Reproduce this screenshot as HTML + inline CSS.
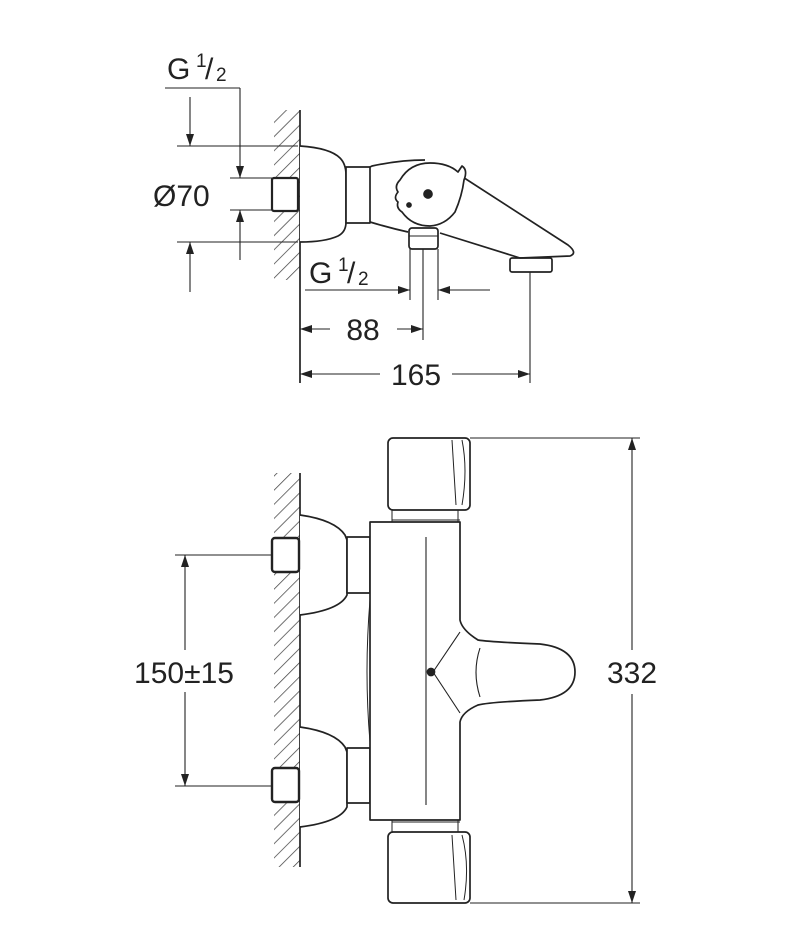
<!DOCTYPE html>
<html><head><meta charset="utf-8"><style>
html,body{margin:0;padding:0;background:#fff;width:790px;height:950px;overflow:hidden}
svg{display:block}
text{font-family:"Liberation Sans",Arial,sans-serif;fill:#222}
</style></head><body>
<svg width="790" height="950" viewBox="0 0 790 950" xmlns="http://www.w3.org/2000/svg">
<defs>
<pattern id="h" width="10" height="10" patternUnits="userSpaceOnUse" patternTransform="rotate(45)">
<line x1="0" y1="0" x2="0" y2="10" stroke="#444" stroke-width="1.5"/>
</pattern>
<marker id="a" viewBox="0 0 12 8" refX="12" refY="4" markerWidth="13" markerHeight="8" orient="auto" markerUnits="userSpaceOnUse">
<path d="M0,0 L12,4 L0,8 z" fill="#222"/>
</marker>
</defs>
<g fill="none" stroke="#222" stroke-width="1.7" stroke-linejoin="round">

<!-- TOP VIEW -->
<rect x="274" y="110" width="26" height="170" fill="url(#h)" stroke="none"/>
<line x1="300" y1="110" x2="300" y2="383"/>
<line x1="165" y1="88" x2="240" y2="88" stroke-width="1.1"/>
<line x1="240" y1="88" x2="240" y2="178" stroke-width="1.1" marker-end="url(#a)"/>
<line x1="240" y1="260" x2="240" y2="210" stroke-width="1.1" marker-end="url(#a)"/>
<line x1="190" y1="97" x2="190" y2="146" stroke-width="1.1" marker-end="url(#a)"/>
<line x1="190" y1="292" x2="190" y2="242" stroke-width="1.1" marker-end="url(#a)"/>
<line x1="177" y1="146" x2="298" y2="146" stroke-width="1.1"/>
<line x1="177" y1="242" x2="298" y2="242" stroke-width="1.1"/>
<line x1="230" y1="178" x2="272" y2="178" stroke-width="1.1"/>
<line x1="230" y1="210" x2="272" y2="210" stroke-width="1.1"/>
<rect x="272" y="178" width="26" height="33" rx="2" stroke-width="2.2" fill="#fff"/>
<path d="M300,146 Q330,148 340,158 Q346,164 346,175 L346,222 Q346,232 338,236 Q325,242 300,242" fill="#fff"/>
<rect x="346" y="167" width="24" height="56" fill="#fff"/>
<path d="M370,167 L372,166 Q400,160 425,160"/>
<path d="M370,222 Q390,228 408,232"/>
<path d="M455,172 L568,245 Q578,253 570,256 L520,258 L440,233" fill="#fff"/>
<rect x="510" y="258" width="42" height="14" rx="2"/>
<path d="M400,180 Q410,163 430,163 Q448,163 458,172 L462,166 Q468,170 464,180 Q462,196 455,212 Q445,225 430,226 Q412,226 402,212 Q396,208 398,202 Q393,198 398,192 Q394,186 400,180z" fill="#fff"/>
<circle cx="428" cy="194" r="4" fill="#222"/>
<circle cx="409" cy="205" r="2" fill="#222"/>
<rect x="409" y="228" width="29" height="21" rx="3" fill="#fff"/>
<line x1="409" y1="236" x2="438" y2="236" stroke-width="1"/>
<line x1="410" y1="249" x2="410" y2="300" stroke-width="1.1"/>
<line x1="438" y1="249" x2="438" y2="300" stroke-width="1.1"/>
<line x1="423" y1="249" x2="423" y2="340" stroke-width="1.1"/>
<line x1="530" y1="272" x2="530" y2="383" stroke-width="1.1"/>
<line x1="305" y1="290" x2="410" y2="290" stroke-width="1.1" marker-end="url(#a)"/>
<line x1="490" y1="290" x2="438" y2="290" stroke-width="1.1" marker-end="url(#a)"/>
<line x1="330" y1="329" x2="300" y2="329" stroke-width="1.1" marker-end="url(#a)"/>
<line x1="397" y1="329" x2="423" y2="329" stroke-width="1.1" marker-end="url(#a)"/>
<line x1="380" y1="374" x2="300" y2="374" stroke-width="1.1" marker-end="url(#a)"/>
<line x1="452" y1="374" x2="530" y2="374" stroke-width="1.1" marker-end="url(#a)"/>

<!-- BOTTOM VIEW -->
<rect x="274" y="473" width="26" height="394" fill="url(#h)" stroke="none"/>
<line x1="300" y1="473" x2="300" y2="867"/>
<path d="M300,515 Q335,520 345,535 L347,540 L347,595 Q340,610 300,615" fill="#fff"/>
<rect x="347" y="537" width="23" height="56" fill="#fff"/>
<path d="M300,727 Q335,732 345,747 L347,752 L347,807 Q340,822 300,827" fill="#fff"/>
<rect x="347" y="748" width="23" height="55" fill="#fff"/>
<rect x="272" y="538" width="27" height="34" rx="3" stroke-width="2.4" fill="#fff"/>
<rect x="272" y="768" width="27" height="34" rx="3" stroke-width="2.4" fill="#fff"/>
<line x1="175" y1="555" x2="272" y2="555" stroke-width="1.1"/>
<line x1="175" y1="786" x2="272" y2="786" stroke-width="1.1"/>
<line x1="185" y1="650" x2="185" y2="555" stroke-width="1.1" marker-end="url(#a)"/>
<line x1="185" y1="692" x2="185" y2="786" stroke-width="1.1" marker-end="url(#a)"/>
<rect x="388" y="438" width="82" height="72" rx="5" fill="#fff"/>
<path d="M452,440 L456,505 M462,440 Q468,470 462,505" stroke-width="1"/>
<line x1="392" y1="520" x2="460" y2="520" stroke-width="1"/>
<line x1="392" y1="510" x2="392" y2="522" stroke-width="1"/>
<line x1="458" y1="510" x2="458" y2="522" stroke-width="1"/>
<rect x="388" y="832" width="82" height="71" rx="5" fill="#fff"/>
<path d="M452,835 L456,900 M462,835 Q470,865 464,900" stroke-width="1"/>
<line x1="392" y1="822" x2="460" y2="822" stroke-width="1"/>
<line x1="392" y1="820" x2="392" y2="832" stroke-width="1"/>
<line x1="458" y1="820" x2="458" y2="832" stroke-width="1"/>
<path d="M370,522 L460,522 L460,620 Q462,630 478,640 Q490,642 540,644 Q575,648 575,672 Q575,696 540,700 Q490,702 478,705 Q462,712 460,722 L460,820 L370,820 Z" fill="#fff"/>
<path d="M370,600 Q364,672 370,742" stroke-width="1"/>
<line x1="426" y1="537" x2="426" y2="805" stroke-width="1.1"/>
<path d="M433,672 L460,632 M433,672 L460,713" stroke-width="1.1"/>
<path d="M480,648 Q472,672 480,697" stroke-width="1.1"/>
<circle cx="431" cy="672" r="3.5" fill="#222"/>
<line x1="470" y1="438" x2="640" y2="438" stroke-width="1.1"/>
<line x1="470" y1="903" x2="640" y2="903" stroke-width="1.1"/>
<line x1="632" y1="650" x2="632" y2="438" stroke-width="1.1" marker-end="url(#a)"/>
<line x1="632" y1="694" x2="632" y2="903" stroke-width="1.1" marker-end="url(#a)"/>
</g>

<g font-size="30">
<text x="167" y="79">G</text><text x="196" y="67" font-size="19">1</text><text x="205" y="79">/</text><text x="216" y="81" font-size="19">2</text>
<text x="153" y="206">Ø70</text>
<text x="309" y="283">G</text><text x="338" y="271" font-size="19">1</text><text x="347" y="283">/</text><text x="358" y="285" font-size="19">2</text>
<text x="363" y="340" text-anchor="middle">88</text>
<text x="416" y="385" text-anchor="middle">165</text>
<text x="184" y="683" text-anchor="middle">150±15</text>
<text x="632" y="683" text-anchor="middle">332</text>
</g>
</svg>
</body></html>
